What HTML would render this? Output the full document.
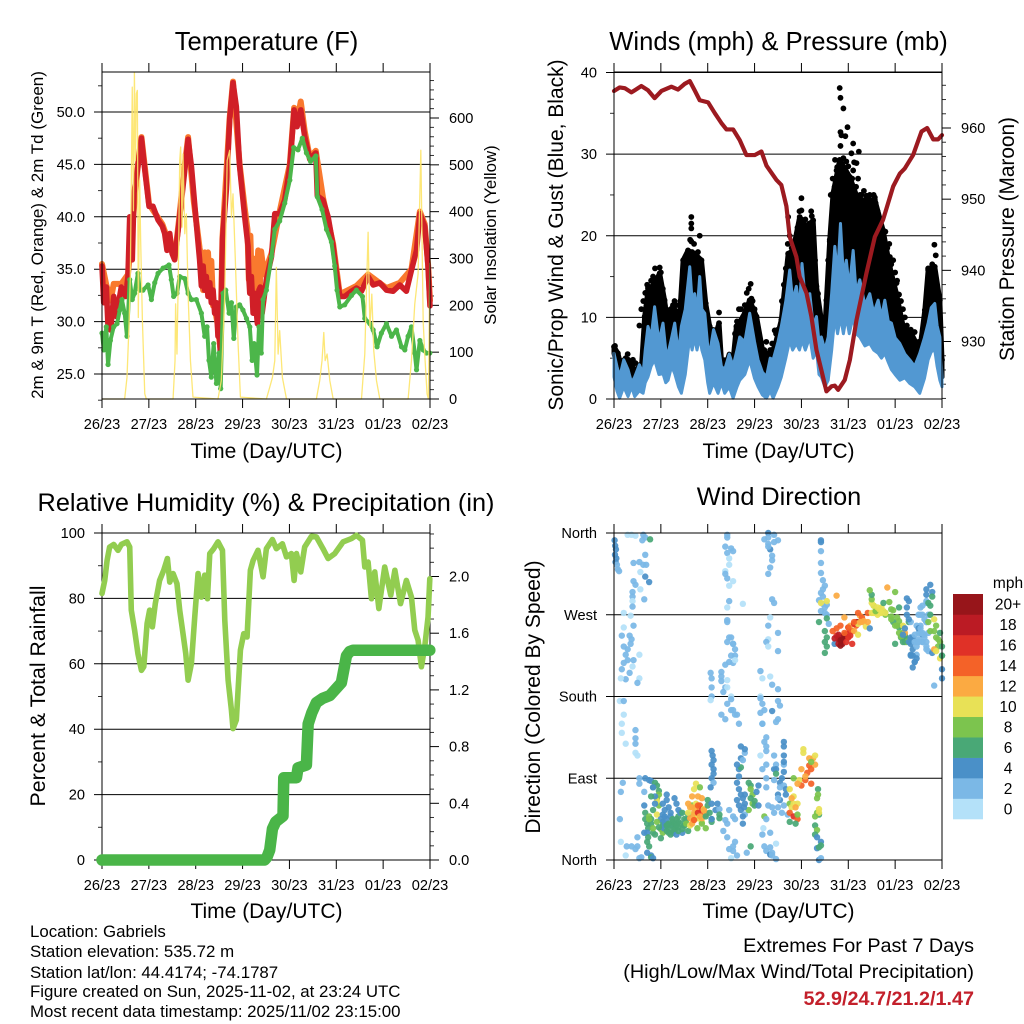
<!DOCTYPE html>
<html lang="en">
<head>
<meta charset="utf-8">
<title>Station Meteogram - Gabriels</title>
<style>
html,body{margin:0;padding:0;background:#fff;}
svg{display:block;font-family:"Liberation Sans",Arial,sans-serif;}
</style>
</head>
<body>
<svg id="chart" xmlns="http://www.w3.org/2000/svg" width="1024" height="1024" viewBox="0 0 1024 1024">
<rect x="0" y="0" width="1024" height="1024" fill="#fff"/>
<g id="p1"></g>
<g id="p2"></g>
<g id="p3"></g>
<g id="p4"></g>
<g id="legend"></g>

<text x="266.5" y="50" font-size="25.6" text-anchor="middle">Temperature (F)</text>
<text x="778.5" y="50" font-size="25.6" text-anchor="middle">Winds (mph) &amp; Pressure (mb)</text>
<text x="266" y="511" font-size="25.3" text-anchor="middle">Relative Humidity (%) &amp; Precipitation (in)</text>
<text x="779" y="505" font-size="25.3" text-anchor="middle">Wind Direction</text>

<text x="266.5" y="458" font-size="21" text-anchor="middle">Time (Day/UTC)</text>
<text x="778.5" y="458" font-size="21" text-anchor="middle">Time (Day/UTC)</text>
<text x="266.5" y="918" font-size="21" text-anchor="middle">Time (Day/UTC)</text>
<text x="778.5" y="918" font-size="21" text-anchor="middle">Time (Day/UTC)</text>

<text transform="translate(43,235) rotate(-90)" font-size="17" text-anchor="middle">2m &amp; 9m T (Red, Orange) &amp; 2m Td (Green)</text>
<text transform="translate(496,235) rotate(-90)" font-size="16.8" text-anchor="middle">Solar Insolation (Yellow)</text>
<text transform="translate(563,235) rotate(-90)" font-size="21" text-anchor="middle">Sonic/Prop Wind &amp; Gust (Blue, Black)</text>
<text transform="translate(1014,239) rotate(-90)" font-size="20.8" text-anchor="middle">Station Pressure (Maroon)</text>
<text transform="translate(45,696) rotate(-90)" font-size="21.3" text-anchor="middle">Percent &amp; Total Rainfall</text>
<text transform="translate(540,697) rotate(-90)" font-size="21" text-anchor="middle">Direction (Colored By Speed)</text>

<g font-size="16.85">
<text x="30" y="937">Location: Gabriels</text>
<text x="30" y="957">Station elevation: 535.72 m</text>
<text x="30" y="978">Station lat/lon: 44.4174; -74.1787</text>
<text x="30" y="997">Figure created on Sun, 2025-11-02, at 23:24 UTC</text>
<text x="30" y="1017">Most recent data timestamp: 2025/11/02 23:15:00</text>
</g>
<g font-size="19.8" text-anchor="end">
<text x="974" y="952">Extremes For Past 7 Days</text>
<text x="974" y="978">(High/Low/Max Wind/Total Precipitation)</text>
<text x="974" y="1005" font-weight="bold" fill="#c3202b">52.9/24.7/21.2/1.47</text>
</g>
</svg>

<script>
// ---------- shared axis data ----------
var dayLabels = ['26/23','27/23','28/23','29/23','30/23','31/23','01/23','02/23'];

// ---------- temperature panel data ----------
var tempTicks = [25,30,35,40,45,50];
var tempTickLabels = ['25.0','30.0','35.0','40.0','45.0','50.0'];
var tempMinorTicks = [22.5,27.5,32.5,37.5,42.5,47.5,52.5];
var solarTicks = [0,100,200,300,400,500,600];
var solarMinorTicks = [20,40,60,80,120,140,160,180,220,240,260,280,320,340,360,380,420,440,460,480,520,540,560,580,620,640,660,680];

var redHours = [0,.9,2.2,3.1,4.4,6,7.3,9.9,12.1,13.3,14.2,15.5,16.4,18.4,20.2,21.9,24.1,26.1,28.7,30.9,32.1,33.3,34.7,35.9,37.2,38.4,39.8,41.5,44.1,45.8,48.3,
50,50.9,51.8,52.6,53.4,54.3,55.2,56,56.9,57.7,58.6,59.4,60,60.6,61.7,63.7,65.4,67.1,68.8,70.5,73.1,74.8,75.2,75.7,76.5,77.4,78.2,79.6,80.4,81.1,82,84.2,86.8,88.5,91,93.6,96.2,98.4,99.9,101.8,103.8,106.4,109.5,110.3,113.2,115.8,118.4,120.1,121.8,124.3,127.8,130.3,132.9,136.3,138.9,142.3,145.7,149.1,152.5,155.9,158.5,161.1,162.8,165.3,167,168];
var redTemp = [35.3,31.8,33.3,29.5,29.2,32.4,30.5,33.3,32.4,34.3,40,35.9,42.3,44.8,47.5,44.5,41,41,39.7,39.1,38.4,36.8,38.4,36.5,35.9,37.8,40,42.9,47.4,44.8,39.4,
35.9,33.4,35.3,33,34.3,32.4,33.7,31.8,33,30.8,31.8,28.6,29.8,27,37.8,42.6,49.3,52.8,50.5,44.8,40,37.2,34.3,32.7,34.3,30.8,32.7,29.8,33,33.3,30.8,34,36.2,40.3,40.3,41.6,44.8,50.2,48.6,50.2,47.7,45.5,46.1,42,41.6,40,37.2,34.6,32.4,32.4,32.9,33.2,32.9,34.3,33.5,33.7,33,32.9,33.5,32.9,34.9,36.8,40.3,39.1,35.3,31.5];

var orangeHours = [0,2.2,4.4,6,9.9,13.3,18.4,20.2,24.1,30.9,37.2,39.8,41.5,44.1,47,50,51,51.8,52.6,53.4,54.3,55.2,56,56.9,57.5,59,60.6,61.7,65.4,67.1,70.5,73,74.5,75.2,76,76.8,78,78.8,80,80.8,81.5,83,86.8,91,96.2,98.4,100,101.8,103.8,106.4,109.5,113.2,118.4,121.8,130.3,136.3,145.7,152.5,158.5,162.8,165.3,167,168];
var orangeTemp = [35.5,33.5,32,33.6,33.6,34.5,45,47.6,41.2,39.3,36,40.3,43.5,47.6,41.5,37,36,33,36.6,33.5,36.6,33,35.8,31.5,31.5,30,27.5,38,49.5,52.9,45,41,38.8,34,38.2,33,36,32,36.8,33,36.7,34.5,36.5,40.5,45,50.4,49.2,51,48.2,45.7,46.3,41.8,37.4,32.6,33.4,34.5,33.2,33.7,35,40.5,39.3,35.5,32];

var greenHours = [0,.9,2.2,3.1,4.3,6,7.7,9.1,10.2,11.6,12.8,14.2,15.5,16.7,18.4,19.3,21,23.6,25.3,27,28.7,31.3,34.3,35.5,36.7,38.4,39.8,42.4,44.1,45.8,48.3,50.9,52.6,53.8,54.8,56,57.2,58.6,60,60.8,62,63.4,65.1,66.3,67.5,68.8,70.5,72.2,74,75.7,76.9,77.9,79.4,80.4,81.6,82.5,84.2,86.8,88.5,91,93.6,96.2,98.2,100.4,102.6,104.7,106.8,109.5,110.3,112.7,115,117.5,119.2,120.4,121.8,124.3,127.8,130.3,133.4,134.6,137.2,138.9,140.9,143.1,145.7,148.3,150.8,153.4,155.1,156.8,158.5,160.2,161.1,162.8,164.5,166.2,167.9];
var greenDew = [28.9,27.3,29.5,25.9,28.2,29.5,29.8,31.1,32.1,30.8,28.6,34,32.1,32.7,34.6,33,33,33.5,32.1,33.7,34.6,35.1,35.4,34,32.4,32.7,34.3,34.1,32.7,32.1,32.1,30.8,28.6,29.5,26.3,24.7,27.9,24.1,27,23.6,32.7,33,30.8,31.8,28.4,31.4,31.6,31.1,30.3,29.5,26.3,27.9,24.9,29.5,27,32.1,33,36.2,38.8,39.6,41.3,43.5,46.6,46.4,47.5,46.1,45.3,45.8,41.9,40.7,38.8,37.6,35.3,33,31.4,31.6,32.5,33,32.4,30.3,29.8,29.2,27.6,28.9,29.8,28.6,29.2,27.6,27.3,28.6,29.5,27,25.4,28.2,27.3,27,27];

var solarHours = [0,11.6,12.8,13.8,14.5,15,15.5,16.1,16.6,17.1,17.6,18.1,18.6,19.3,19.8,20.7,21.9,22.7,
36.4,37.4,37.7,38.4,39.1,39.8,40.3,41,41.5,42.4,43.2,44.1,45.3,46.6,
59.4,61.1,62.9,64.1,65.4,66.3,67.1,68.3,69.7,70.9,
84.2,85.9,87.3,88.5,89.3,90.2,91,92.4,94.5,
109.8,111.5,112.7,113.6,114.3,115.3,116.7,118.4,
132.9,134.6,135.4,136.3,137.2,138.2,139.2,140.6,142.3,
156.8,158.5,160.2,161.9,163.3,164.5,165.3,166.5,167.2,167.9];
var solarWatts = [0,0,46,153,260,459,666,402,698,509,652,659,174,467,338,167,11,0,
0,82,203,96,267,509,538,367,523,353,395,224,82,4,
0,39,224,509,531,388,438,296,118,4,
0,25,46,82,281,96,146,46,0,
0,39,82,142,82,96,39,0,
0,96,224,356,153,224,103,39,0,
0,82,203,267,531,167,96,11,0,290];

// ---------- winds panel data ----------
var windTicks = [0,10,20,30,40];
var windMinorTicks = [5,15,25,35];
var pressureTicks = [930,940,950,960];
var pressureMinorTicks = [922,924,926,928,932,934,936,938,942,944,946,948,952,954,956,958,962,964,966];

var sonicHours = [0,1.5,2.9,5,7.2,9,10.6,13,14.9,16,17.4,19,20.8,23,25.1,26.5,27.7,29.5,31.1,33,34.5,36.5,38.8,40,41.3,42.5,43.9,45,46.5,48,49,51,53.3,55,56.7,59,61,63,64.4,67,69.5,72,73.8,76,78.1,80,81.5,84,85.7,88,90,91.5,93.4,95,96.3,98,100.3,102,103.7,105,106.2,108,109.7,111.5,113.1,114.5,116,117.5,119,120.5,122.5,124,125.9,128.5,131,133,135.3,137,138.7,140.5,142.1,144,146.4,149,151.5,154,156.6,159,160.9,162.5,164.3,165.5,166.9,168];
var sonicHigh = [5.6,4,2.7,4.8,3.6,2,2.7,4.2,3.1,6,8.9,7.5,11.3,7,9.3,6,5.6,7.5,9.3,5.5,8.9,11,16.2,12,12.9,10.5,15,11,10.5,6.5,5.6,8.5,6.8,4,3.6,5.5,4,6,7.6,7,10.5,7,4.8,3.3,2.7,5,4.8,7,8.9,12,15.8,12,13.8,11,16.6,12,12.9,9,10.1,7,7.6,6,7.6,13,18.7,15,21.5,15,17,13.5,18.2,13,14.6,11.5,12.9,10.5,12.1,10,12.1,9.5,9.3,7.5,6.8,5.5,4.8,4,5.6,7.5,9.3,11.2,11.7,9,7.6,2.7];
var sonicLow = [2.7,1,.1,1.5,.3,1.5,.3,1,.7,2,2.7,4,4.8,3,3.1,2,2.3,4,3.1,1.5,.7,3,7.6,6,7.6,6,7.6,6,4.8,2,.7,2,.7,2,.7,1.5,.1,1.5,2.3,3,4.8,2.5,1.5,.5,.1,1,.1,1.5,2.7,5,7.2,6,6.8,6,7.2,6,7.6,5,6,3,2.7,1.5,2.3,6,10.1,8,10.1,8,10.1,8,10.1,8,7.6,6.5,6.8,6,5.6,5,5.6,4.5,3.6,3,2.3,2.6,1.9,1.5,.7,2.5,4.8,5.8,6,4,2.3,1.5];

var gustHours = [0,2,4.6,7.2,10.6,14,15.7,17.4,20.8,23.4,25.9,27.7,30.2,33.6,35.4,37.9,41.3,44.8,47,49,51.6,53.8,55,58.4,61,62.7,66.1,69.5,73,76.4,79.8,82.3,85.7,89.2,91.7,95.1,98.6,102,103.7,106.2,107.4,108.8,110.5,112.2,115.6,120.8,125,129.3,133.6,137.8,141.3,144.7,148.1,152.4,156.6,159.2,160.9,164.3,166.9,168];
var gustMph = [6.4,5.6,3.1,4.8,3.6,3.6,10.1,13.3,14.2,15.4,12.1,8.9,11.3,10.1,17,18.2,17.8,17,11.7,8.9,7.6,9.3,4.8,4.8,4.8,8.9,10.1,12.1,10.1,5.6,5.6,6.4,9.7,17.8,18.2,22.3,21.1,21.9,13.8,9.7,5.6,12.1,19.5,25.2,29.3,27.2,24.4,24.4,24.4,20.7,16.2,12.9,8.9,8,6,10.9,15.8,16.2,12.1,4.8];
var gustPeakHours = [39.6,39.6,39.6,43.9,39.6,23.4,20.8,17.4,70,70.4,69.9,115.6,116,117.5,119.6,116,116.5,118.5,122.5,125.4,116,121.6,113.2,119,124.2,114.3,117.3,122.5,96,96,101.3,95.1,164.1,164.8,160.9,129.3,133.6,126.7,89.2,86.6,85.7,82.3,53.8,30.2,63.5,7.2,9.7,.3,110.5,109.7,109.7,110.5,110.5,137,141.3,144.7,149.8,102.8,104.5,104.5,107.1,
111,112,113,114,115,116,116.5,117.5,118,119,120,121,122,123,124,125,126,127,128,129,130,131,132,133,134,135,136,137,138,139,140,141,142,143,144,145,146,147,148,149,150,152,154,156,158,
86,87,88,89,90,91,92,93,94,95,96,97,98,99,100,101,102,103,103.5,105,
36,37,38,39,40,41,42,43,44,45,46,46.5,
13,14,15,16,17,18,19,20,21,22,23,24,25,26,
28,29,31,32,33,34,
62,63,64,65,67,68,69,71,72,73,74,
.5,1,2,3,5,6,7,8,9,11,12,
159,160,161,162,163,164,165,166,167,
77,78,80,81,83,84,85];
var gustPeakMph = [22.3,21.5,20.9,20,19.3,16.1,14.6,13.6,14.1,12.3,11.7,38.1,36.9,35.6,33.3,32.7,32.3,32.2,31.3,30.3,31,30.1,29.3,29.1,28.9,28.4,28,28,24.6,23.1,22.4,21.9,18.9,17.6,16,24.9,24.7,25,22.3,11.3,8.7,8.4,10.6,11.5,9.1,4.8,4.8,6.4,11.5,12.1,17,19.3,15.4,21.1,17.4,14.2,8,15.4,12.9,10.9,6,
25,27,26,28,26.5,29,27.5,29.5,26.5,27,28.5,26,27,29,26,27,25,24,25.5,24,23.5,25,24,25,24,23,21.5,22,20,20.5,18.5,19,16.5,17,15.5,14.5,12.8,12,11,10,9,8.5,8.2,7,6.8,
12,14,16,19,20,18.5,17.5,19,21,23,22,20.5,22,20,21.5,23,21,17,14,11,
15,16.5,18,19.5,18,19,17.5,18,17,14.5,13,11,
9,11,12,13,14,12,14.5,15,16,14,13,15.5,13.5,11.5,
10.5,11,12,11.5,10,12,
8,9.5,11,11,11.5,13,13.5,12,11,9,7.5,
6.5,5,4,2.5,4,5,5.5,4.5,4,4.4,3.7,
8,10,14,16,16.5,15,14,11,8,
6,7,6,6.8,8,8.5,7];

var pressureHours = [0,2.9,5.5,8.9,14,17.4,20.8,24.3,29.4,32.8,36.2,38.8,41.3,43.9,48.2,51.6,55,57.6,61,64.4,67.8,72.1,75.5,78.1,83.2,85.7,88.3,90,93.4,95.1,98.6,101.1,103.7,106.2,108.8,111.4,113.1,114.8,118.2,120.8,124.2,129.3,133.6,137.8,143,146.4,148.9,153.2,157.5,160.4,163.5,166,168];
var pressureMb = [965.2,965.7,965.6,965,965.9,965.3,964.2,965.2,965.8,965.4,966.2,966.6,965.3,963.9,963.6,962.1,960.7,959.8,959.8,958.3,956.2,956.2,956.7,954.7,952.7,952,949,944.7,941.9,939.1,936.8,933.5,928.8,926,923,923.7,923.8,923.2,924.6,927.4,933,939.6,944.7,947.1,951.8,953.6,954.3,956.2,959.5,960,958.4,958.4,959];

// ---------- humidity panel data ----------
var rhTicks = [0,20,40,60,80,100];
var rhMinorTicks = [10,30,50,70,90];
var rainTicks = [0,.4,.8,1.2,1.6,2];
var rainTickLabels = ['0.0','0.4','0.8','1.2','1.6','2.0'];
var rainMinorTicks = [.1,.2,.3,.5,.6,.7,.9,1,1.1,1.3,1.4,1.5,1.7,1.8,1.9,2.1,2.2,2.3];

var rhHours = [0,1.4,2.6,3.9,6,8.2,9.9,12.8,14.2,15,16.7,18.4,20.2,21.4,23.1,24.4,25.8,27.3,29.5,31.6,33.5,34.7,36.4,38.4,39.8,41.5,42.9,44.1,45.8,47.5,49.2,50.9,52.6,54,55.2,57.2,59.4,61.7,62.9,64.6,66.3,67.1,68.8,70.9,72.6,74.3,76,77.4,79.9,82.5,84.2,87.3,89.3,92.4,94.5,97,98.4,99.6,101.8,103.8,107.3,109.8,113.2,115.8,119.2,123.5,127.8,130.3,133.4,134.6,136.3,138,139.7,141.8,144.8,147.9,150,152.9,155.9,158.5,160.2,161.9,163.6,165.3,167,167.9];
var rhPercent = [81.5,85.5,91.6,95.7,96.5,94.7,96.5,97.3,95.7,76.4,70.3,63.1,58,59.1,72.3,76.4,71.3,78.4,85.5,88.6,92.2,85,87.6,84.5,76.4,69.2,63.1,55,60.1,74.3,87.6,80.4,87.1,79.9,93.7,95.2,97.3,94.7,73.3,55,45.8,40.2,42.8,64.2,69.2,68.2,88.6,91.6,94.7,86.6,95.2,98,95.2,96.7,92.7,93.7,85.5,93.7,88.1,95.7,99,98.8,95.2,92.2,93.7,97.3,98.3,99.3,97.8,89.6,91.1,79.9,88.1,76.9,89.6,81,88.6,78.4,85.5,80.4,70.3,67.2,59.1,65.2,74.3,86];
var rainHours = [0,83.3,84.5,85.9,87.3,89,92.7,93.1,99.6,100.4,104.7,105.6,107.5,109.8,113,116.7,122.6,125.2,126.8,128.6,167.9];
var rainInches = [0,0,.02,.07,.22,.27,.31,.58,.58,.65,.67,.96,1.04,1.11,1.14,1.16,1.25,1.44,1.47,1.48,1.48];

// ---------- wind direction panel data ----------
var directionLabels = ['North','East','South','West','North'];
var directionTicks = [0,90,180,270,360];
var legendLabels = ['0','2','4','6','8','10','12','14','16','18','20+'];
var dirHours = [
0.3,0.6,1,0.5,1.2,0.8,1.5,2,2.6,
7,9,11,15,14.5,16,18.5,16,10,13,15,16.5,13.5,16,18,10,11,13.5,9.5,9.5,9.5,15.5,9.5,5,8.5,10,5,4,8,9,8.5,7,5,6,7,10,13,5,4,9.5,6,8,3.5,13,12,
3,5,5,4,4,6,11,11,11,11,12,4.5,3.5,3,3.5,6.5,9,6,12,12,11,13,14,13,13,16,19,20,18,
15.5,15.5,16,16,17,17.5,17,17.5,17,18,19,19,20,15.5,17,21,22,23,22,23,23,22,21,20,21,20,22,25,25,25,25,25,24,27,27,27,28,29,29,29,30,31,32,33,33,33,33,35,36,36,38,38,
24,24,25.5,26,26,26,27,27,27,28,28,28,29,30,30,30,31,31,31,32,32,32,33,34,34,35,35,36,37,37,18,19,19,20,20,21,22,23,18,19,
40,42,44,41,43,45,40,42,44,39,41,42,44,46,38,41,43,45,45,47,46,43,42.7,47,39,40,41,
38,39,40,41,42,43,43,44,45,46,
47,48,48,49,47,50,50,52,54,53,54,54,50,
50,50,50.5,51,50,51,51,50,51,49.5,49.5,50,50,50,49.5,
55,55,55,55,57,56,58,58,60,60,58,61,60,63,62,64,
57,58,58,60,61,59,58,60,62,59,61,61,62,62,
57,58,58,60,61,57,58,59,59,57,57,58,61,59,66,59,
58,58,58,56,57,59,61,62,64,64,63,64,65,63,65,64,67,66,66,65,67,67,65,66,65,63,62,61,63,59,61,60,
68,69,70,70,71,70,71,69,72,72,73,74,67,66,74,67,66.6,70,
77,78,79,78,78,76.5,76,77,78,80,81,80,83,81,83,80,82,81,82,
76,79,82,79,84,77,82,79,80,79,81,81,80,79,81,82,80,79,84,79,78,79,84,76,75,80,81,84,
75,75,76,77,75,84,84,85,81,83,76,76,78,77,78,78,75,78,
87,87,87,87,87,82,82,83,83,83,85,87,86,87,88,88,85,84,84,85,87,84,86,
89,90,91,92,92,90,90,92,94,94,94,93,91,92,95,96,96,98,99,100,101,98,101,102,97,97,103,103,100,101,94,90,93,
104,104.5,104.5,104,105,105,105,103,103,104,103,104,106,106,104,105,105,
106,106,106,106,106,106,107,108,107,106,107,105,107,109,109,106,108,106,108,109,109,105,110,108,109,108,109,108,
113,114,115,116,117,115,117,118,119,120,122,122,120,121,124,124,125,123,118,116,114,112,120,126,127,125,130,128,129,125,123,125,
114,115,116,117,116,118,113,119,120,121,118,122,123,120,126,127,
130,132,134,136,138,135,137,133,132,132,132,131,140,142,139,138,139,144,143,145,146,147,146,148,149,150,149,148,148,149,150,151,150,150,151,
131,133,135,137,139,134,136,133,135,141,142,143,144,145,146,147,147,148,144,142,
146,148,149,151,152,153,152,154,153,155,155,156,157,158,158,160,160,161,158,160,155,156,152,156,157,158,158,160,160,160,160,160,162,163,163,161,162,
150,152,153,154,154,155,156,156,157,157,158,159,159,160,161,156,157,159,160,161,151,152,153,154,155,
163,162,161,164,165,162,165,167,167,166,166,164,165,167,168,168,168,168,168,164,164];
var dirDegrees = [
352,346,342,336,332,328,325,320,318,
358,358,357,358,352,355,353,336,327,328,325,325,317,312,306,307,303,298,295,290,285,287,279,272,269,258,256,247,247,243,238,232,235,226,220,220,226,217,210,213,199,206,200,200,195,
175,175,160,150,140,128,143,134,128,118,115,85,75,45,20,15,15,5,25,15,12,2,3,84,90,90,87,80,88,
75,60,52,45,40,35,30,25,20,15,5,3,2,30,8,85,82,76,68,72,60,65,62,55,70,80,50,62,50,42,38,30,24,40,72,66,58,52,48,38,30,68,62,55,48,42,36,30,45,38,32,50,34,
45,35,55,48,40,32,45,38,30,40,34,28,42,45,38,32,40,34,28,45,38,32,52,40,34,52,38,44,40,48,45,40,30,35,28,42,36,45,70,60,
84,80,78,70,68,70,62,60,58,52,50,56,52,62,50,46,42,40,50,56,46,35,35,38,40,44,52,
46,58,44,56,52,60,48,46,55,52,
66,60,52,48,45,62,55,56,62,50,46,42,45,
120,115,110,105,100,95,90,85,80,206,200,190,180,176,160,
207,202,197,190,185,190,198,180,177,172,165,165,160,160,150,155,
264,262,245,238,245,240,225,225,218,217,238,232,220,215,
358,355,343,340,345,338,332,325,318,315,310,307,302,282,285,278,
25,40,32,44,55,48,45,100,92,85,78,72,66,55,60,50,48,40,125,118,122,112,110,102,105,20,10,5,12,15,2,8,
85,82,78,72,68,62,55,65,60,75,82,72,68,60,62,58,15,48,
90,60,80,45,35,28,15,10,6,8,14,1,5,18,30,52,58,88,100,
360,358,355,352,353,350,348,342,345,335,330,322,315,287,283,267,258,250,243,240,235,230,200,208,202,193,188,180,
178,172,165,162,155,175,170,164,152,150,150,135,130,120,125,115,105,105,
130,125,115,108,100,115,105,100,95,85,97,90,82,78,72,66,72,68,80,60,58,52,50,
62,58,62,70,78,52,48,45,50,62,58,68,90,88,82,100,88,96,104,100,92,84,112,118,122,115,105,112,108,84,42,40,52,
78,72,68,50,56,52,48,38,33,28,25,20,16,13,14,0,2,
350,352,340,327,316,308,302,298,294,290,286,282,281,285,283,278,274,272,270,266,262,260,252,245,240,235,228,238,
247,243,240,238,238,245,246,249,250,252,252,256,258,262,258,262,260,267,258,255,252,246,269,267,272,272,263,257,260,252,248,291,
248,236,242,242,248,244,240,245,247,250,238,262,256,262,262,262,
272,275,272,274,272,278,280,283,287,292,297,300,276,272,283,270,295,275,267,263,258,256,250,247,243,240,250,258,250,240,285,278,270,262,255,
272,270,272,272,274,276,280,278,284,268,262,258,258,250,245,246,240,238,265,278,
248,255,240,238,232,226,218,212,226,235,250,258,248,240,232,240,230,250,262,258,270,262,255,278,280,270,283,285,262,292,298,303,295,290,283,280,288,
245,245,240,248,240,243,240,250,255,240,248,245,235,250,240,270,265,262,270,265,225,225,218,222,228,
270,262,252,258,252,245,240,250,243,235,232,230,222,225,235,225,210,200,192,265,248];
var dirSpeed = [
4,4,4,4,4,4,3,3,3,
1,1,1,2,2,3,6,2,2,2,2,3,1,4,4,2,2,1,3,2,1,3,2,1,1,2,1,2,2,2,3,3,2,2,2,2,1,3,2,1,2,2,1,1,2,
1,2,1,1,1,1,2,3,2,1,1,2,2,2,1,2,2,1,2,2,2,2,3,2,3,4,4,6,4,
3,5,7,6,6,7,5,6,6,7,5,6,4,5,4,7,6,7,8,8,8,10,5,6,5,4,10,4,4,6,7,8,6,6,5,4,4,4,4,5,5,5,4,4,6,6,6,5,6,6,7,6,8,
4,5,4,4,5,6,5,6,6,6,6,6,6,6,6,6,6,6,5,6,6,6,5,6,6,6,7,6,8,8,7,6,6,8,6,8,6,8,7,8,
10,8,10,12,12,12,11,14,12,12,10,16,14,12,12,10,10,8,14,10,10,8,8,10,12,12,10,
12,12,14,12,16,14,12,12,12,12,
6,7,6,6,6,4,5,3,4,6,6,6,4,
4,4,4,4,4,4,4,3,4,3,2,3,2,1,3,
3,3,2,3,3,1,1,1,3,3,3,2,2,2,2,2,
3,3,3,2,2,2,2,2,3,2,2,2,1,2,
2,2,2,3,3,2,1,1,1,2,3,1,1,1,3,1,
2,2,2,3,3,3,3,4,4,4,4,4,4,4,4,3,4,4,4,3,4,4,3,6,4,3,3,2,3,2,1,3,
6,6,8,8,6,8,8,6,6,4,4,4,4,5,4,4,6,8,
3,3,2,2,1,2,3,3,4,2,2,2,2,1,2,3,3,3,3,
4,3,3,3,3,3,3,4,3,3,3,2,2,3,2,1,2,2,1,2,1,2,1,3,1,3,2,1,
3,2,3,2,3,3,3,4,2,3,2,2,3,2,2,1,3,2,
4,4,4,4,4,3,3,4,6,4,4,4,3,4,4,4,4,3,2,3,3,3,3,
8,10,10,10,10,14,16,14,8,10,12,12,8,10,14,12,14,14,15,14,12,14,12,10,10,11,12,12,8,12,6,6,8,
6,8,8,6,10,10,8,6,8,6,5,4,6,4,6,4,3,
4,4,3,3,3,3,3,3,3,2,3,3,3,10,10,3,3,3,3,6,7,3,7,6,6,6,6,5,
16,18,18,20,18,20,20,18,16,18,14,16,12,16,14,20,16,12,14,14,14,14,12,15,14,14,12,10,10,12,10,12,
18,20,20,20,20,18,16,16,16,14,16,14,14,12,12,12,
10,10,10,10,10,10,8,10,9,6,8,12,8,8,7,8,8,8,8,8,8,6,8,6,6,6,8,10,12,8,4,5,5,6,5,
10,10,10,10,8,10,10,10,8,8,6,8,8,8,6,8,6,6,8,7,
4,4,4,4,4,4,4,4,3,3,3,3,4,3,3,3,3,3,3,3,3,3,4,3,3,3,3,3,3,4,4,4,4,6,6,6,4,
4,4,3,3,3,3,3,3,3,3,3,3,3,3,3,3,3,3,3,4,4,4,4,4,4,
7,8,8,8,8,8,8,6,8,8,12,10,10,6,6,6,4,4,3,10,10];

// ---------- drawing helpers ----------
var NS = 'http://www.w3.org/2000/svg';
var GRIDCOL = '#000';
var windPalette = ['#b4e1f9','#7bb8e6','#4a90c8','#49a876','#7cc44e','#e8e156','#fbaa42','#f46228','#e03127','#bb1b24','#97151a'];

function make(parent, tag, attrs) {
  var el = document.createElementNS(NS, tag);
  for (var k in attrs) { el.setAttribute(k, attrs[k]); }
  parent.appendChild(el);
  return el;
}
function px(v) { return Math.round(v * 100) / 100; }
function panel(x0, x1, yTop, yBottom) {
  return {x0: x0, x1: x1, yTop: yTop, yBottom: yBottom,
    hourX: function (h) { return x0 + (h / 168) * (x1 - x0); }};
}
function linear(v0, y0, v1, y1) {
  return function (v) { return y0 + (v - v0) * (y1 - y0) / (v1 - v0); };
}
function pointList(xs, ys, xf, yf) {
  var out = [];
  var n = Math.min(xs.length, ys.length);
  for (var i = 0; i < n; i++) { out.push(px(xf(xs[i])) + ',' + px(yf(ys[i]))); }
  return out;
}
function drawFrame(g, p) {
  var box = make(g, 'rect', {x: p.x0, y: p.yTop, width: p.x1 - p.x0, height: p.yBottom - p.yTop, fill: 'none', stroke: '#000', 'stroke-width': 1});
  
  
  for (var i = 0; i < dayLabels.length; i++) {
    var x = p.hourX(i * 24);
    var t1 = make(g, 'line', {x1: x, x2: x, y1: p.yBottom, y2: p.yBottom + 9, stroke: '#000', 'stroke-width': 1});
    
    
    var t2 = make(g, 'line', {x1: x, x2: x, y1: p.yTop, y2: p.yTop - 9, stroke: '#000', 'stroke-width': 1});
    
    
    var lab = make(g, 'text', {x: x, y: p.yBottom + 30, 'font-size': 14.6, 'text-anchor': 'middle'});
    lab.textContent = dayLabels[i];
    
    
  }
}
function drawLeft(g, p, ticks, labels, minors, yf) {
  for (var i = 0; i < ticks.length; i++) {
    var y = yf(ticks[i]);
    var gl = make(g, 'line', {x1: p.x0 - 8, x2: p.x1, y1: y, y2: y, stroke: GRIDCOL, 'stroke-width': 1});
    
    
    var lab = make(g, 'text', {x: p.x0 - 17, y: y + 5, 'font-size': 14.6, 'text-anchor': 'end'});
    lab.textContent = labels[i];
    
    
  }
  for (var j = 0; j < minors.length; j++) {
    var ym = yf(minors[j]);
    var mt = make(g, 'line', {x1: p.x0 - 4, x2: p.x0, y1: ym, y2: ym, stroke: '#333', 'stroke-width': 1});
    
    
  }
}
function drawRight(g, p, ticks, labels, minors, yf) {
  for (var i = 0; i < ticks.length; i++) {
    var y = yf(ticks[i]);
    var tk = make(g, 'line', {x1: p.x1, x2: p.x1 + 9, y1: y, y2: y, stroke: '#000', 'stroke-width': 1});
    
    
    var lab = make(g, 'text', {x: p.x1 + 19, y: y + 5, 'font-size': 14.6});
    lab.textContent = labels[i];
    
    
  }
  for (var j = 0; j < minors.length; j++) {
    var ym = yf(minors[j]);
    var mt = make(g, 'line', {x1: p.x1, x2: p.x1 + 4, y1: ym, y2: ym, stroke: '#333', 'stroke-width': 1});
    
    
  }
}
function strLabels(arr) { return arr.map(function (v) { return String(v); }); }

// ---------- panel 1: temperature ----------
(function () {
  var g = document.getElementById('p1');
  var p = panel(102, 430, 72, 399);
  var yT = linear(50, 112, 25, 374);
  var yS = linear(0, 399, 600, 118);
  drawLeft(g, p, tempTicks, tempTickLabels, tempMinorTicks, yT);
  drawRight(g, p, solarTicks, strLabels(solarTicks), solarMinorTicks, yS);
  var style = {fill: 'none', 'stroke-linejoin': 'round', 'stroke-linecap': 'round'};
  var orange = make(g, 'polyline', Object.assign({points: pointList(orangeHours, orangeTemp, p.hourX, yT).join(' '), stroke: '#f9792e', 'stroke-width': 6}, style));
  
  
  var red = make(g, 'polyline', Object.assign({points: pointList(redHours, redTemp, p.hourX, yT).join(' '), stroke: '#d01f27', 'stroke-width': 5.6}, style));
  
  
  var gl = make(g, 'polyline', Object.assign({points: pointList(greenHours, greenDew, p.hourX, yT).join(' '), stroke: '#4cb64a', 'stroke-width': 4}, style));
  
  
  for (var i = 0; i < greenHours.length; i++) {
    var c = make(g, 'circle', {cx: px(p.hourX(greenHours[i])), cy: px(yT(greenDew[i])), r: 2.6, fill: '#4cb64a'});
    
    
  }
  var solar = make(g, 'polyline', Object.assign({points: pointList(solarHours, solarWatts, p.hourX, yS).join(' '), stroke: '#fde468', 'stroke-width': 1.3, 'stroke-opacity': .9}, style));
  
  
  drawFrame(g, p);
})();

// ---------- panel 2: winds and pressure ----------
(function () {
  var g = document.getElementById('p2');
  var p = panel(614, 942, 72, 399);
  var yW = linear(0, 399, 40, 72.5);
  var yP = linear(960, 128, 930, 341.5);
  drawLeft(g, p, windTicks, strLabels(windTicks), windMinorTicks, yW);
  drawRight(g, p, pressureTicks, strLabels(pressureTicks), pressureMinorTicks, yP);
  var gustTop = pointList(gustHours, gustMph, p.hourX, yW);
  var sonicTop = pointList(sonicHours, sonicHigh, p.hourX, yW);
  var sonicBottom = pointList(sonicHours, sonicLow, p.hourX, yW);
  var env = make(g, 'polygon', {points: gustTop.concat(sonicTop.slice().reverse()).join(' '), fill: '#000', stroke: '#000', 'stroke-width': 5, 'stroke-linejoin': 'round'});
  
  
  for (var i = 0; i < gustHours.length; i++) {
    var c = make(g, 'circle', {cx: px(p.hourX(gustHours[i])), cy: px(yW(gustMph[i])), r: 2.9, fill: '#000'});
    
    
  }
  for (var j = 0; j < gustPeakHours.length; j++) {
    var d = make(g, 'circle', {cx: px(p.hourX(gustPeakHours[j])), cy: px(yW(gustPeakMph[j])), r: 2.9, fill: '#000'});
    
    
  }
  var band = make(g, 'polygon', {points: sonicTop.concat(sonicBottom.slice().reverse()).join(' '), fill: '#5298d2', stroke: '#5298d2', 'stroke-width': 3, 'stroke-linejoin': 'round'});
  
  
  var pl = make(g, 'polyline', {points: pointList(pressureHours, pressureMb, p.hourX, yP).join(' '), fill: 'none', stroke: '#9c1a20', 'stroke-width': 4.2, 'stroke-linejoin': 'round', 'stroke-linecap': 'round'});
  
  
  drawFrame(g, p);
})();

// ---------- panel 3: humidity and precipitation ----------
(function () {
  var g = document.getElementById('p3');
  var p = panel(102, 430, 533, 860);
  var yR = linear(0, 860, 100, 533);
  var yI = linear(0, 860, 2, 576.5);
  drawLeft(g, p, rhTicks, strLabels(rhTicks), rhMinorTicks, yR);
  drawRight(g, p, rainTicks, rainTickLabels, rainMinorTicks, yI);
  drawFrame(g, p);
  var rh = make(g, 'polyline', {points: pointList(rhHours, rhPercent, p.hourX, yR).join(' '), fill: 'none', stroke: '#92cd50', 'stroke-width': 5.6, 'stroke-linejoin': 'round', 'stroke-linecap': 'round'});
  
  
  var rain = make(g, 'polyline', {points: pointList(rainHours, rainInches, p.hourX, yI).join(' '), fill: 'none', stroke: '#4ab548', 'stroke-width': 11.5, 'stroke-linejoin': 'round', 'stroke-linecap': 'round'});
  
  
})();

// ---------- panel 4: wind direction ----------
(function () {
  var g = document.getElementById('p4');
  var p = panel(614, 942, 533, 860);
  var yD = linear(0, 860, 360, 533);
  drawLeft(g, p, directionTicks, directionLabels, [], yD);
  for (var i = 0; i < dirHours.length; i++) {
    var bin = Math.min(10, Math.floor((dirSpeed[i] === undefined ? 2 : dirSpeed[i]) / 2));
    var c = make(g, 'circle', {cx: px(p.hourX(dirHours[i])), cy: px(yD(dirDegrees[i] === undefined ? 0 : dirDegrees[i])), r: 3.2, fill: windPalette[bin], 'fill-opacity': .93});
    
    
  }
  drawFrame(g, p);
})();

// ---------- legend ----------
(function () {
  var g = document.getElementById('legend');
  var n = legendLabels.length;
  var top = 594, h = 225 / n;
  for (var i = 0; i < n; i++) {
    var y = top + (n - 1 - i) * h;
    var r = make(g, 'rect', {x: 953, y: px(y), width: 30, height: px(h + .3), fill: windPalette[i]});
    
    
    var t = make(g, 'text', {x: 1008, y: px(y + h / 2 + 5.5), 'font-size': 15.5, 'text-anchor': 'middle'});
    t.textContent = legendLabels[i];
    
    
  }
  var u = make(g, 'text', {x: 1008, y: 588, 'font-size': 15.5, 'text-anchor': 'middle'});
  u.textContent = 'mph';
  
  
})();
</script>
</body>
</html>
